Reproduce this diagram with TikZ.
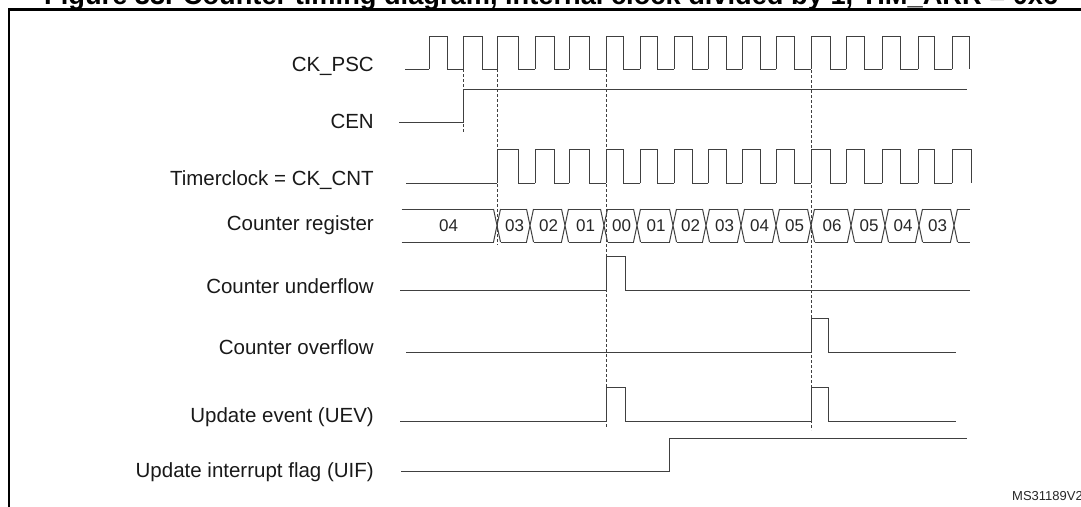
\documentclass[tikz,border=0pt]{standalone}
\usepackage{fontspec}
\setmainfont{Liberation Sans}
\begin{document}
\begin{tikzpicture}[x=1pt,y=-1pt,
  sig/.style={draw=black!75,line width=1pt},
  dsh/.style={draw=black!75,line width=1pt,dash pattern=on 3pt off 2pt},
  lbl/.style={anchor=east,inner sep=0pt,text=black!90,font=\fontsize{20.5}{24}\selectfont},
  bus/.style={inner sep=0pt,text=black!85,font=\fontsize{17}{20}\selectfont}]
\useasboundingbox (0,0) rectangle (1081,506);
% title (clipped)
\begin{scope}
\clip (0,0) rectangle (1081,8);
\node[anchor=base west,inner sep=0pt] (title) at (44,4) {\resizebox{1014pt}{!}{\bfseries Figure 33. Counter timing diagram, internal clock divided by 1, TIM\_ARR = 0x6}};
\end{scope}
% frame
\draw[line width=2.5pt] (1090,9.5) -- (9,9.5) -- (9,515);
% labels
\node[lbl] (l1) at (374,66) {CK\_PSC};
\node[lbl] (l2) at (374,121) {CEN};
\node[lbl] (l3) at (374,180) {Timerclock = CK\_CNT};
\node[lbl] (l4) at (374,225) {Counter register};
\node[lbl] (l5) at (374,286) {Counter underflow};
\node[lbl] (l6) at (374,347) {Counter overflow};
\node[lbl] (l7) at (374,417) {Update event (UEV)};
\node[lbl] (l8) at (374,472) {Update interrupt flag (UIF)};
\node[anchor=base east,inner sep=0pt,font=\fontsize{13}{15}\selectfont,text=black!85] (ms) at (1083,500) {MS31189V2};
% CK_PSC
\draw[sig] (405,69) -- (429,69);
\foreach \r/\f in {429/447,463/482,497/518,535/554,569/589,606/623,640/657,674/692,708/726,742/760,776/794,811/830,846/864,882/900,918/934}{
  \draw[sig] (\r,69) -- (\r,36) -- (\f,36) -- (\f,69);
}
\foreach \f/\r in {447/463,482/497,518/535,554/569,589/606,623/640,657/674,692/708,726/742,760/776,794/811,830/846,864/882,900/918,934/952}{
  \draw[sig] (\f,69) -- (\r,69);
}
\draw[sig] (952,69) -- (952,36) -- (969,36) -- (969,69);
% CEN
\draw[sig] (399,122) -- (463,122) -- (463,89) -- (967,89);
% Timerclock
\draw[sig] (406,183) -- (497,183);
\foreach \r/\f in {497/518,535/554,569/589,606/623,640/657,674/692,708/726,742/760,776/794,811/830,846/864,882/900,918/934,952/971}{
  \draw[sig] (\r,183) -- (\r,149) -- (\f,149) -- (\f,183);
}
\foreach \f/\r in {518/535,554/569,589/606,623/640,657/674,692/708,726/742,760/776,794/811,830/846,864/882,900/918,934/952}{
  \draw[sig] (\f,183) -- (\r,183);
}
% Counter register bus
\def\d{3.5}
\foreach \c in {497,530,565,604,637,673,706,741,776,811,851,885,919,954}{
  \draw[sig] (\c-\d,209) -- (\c+\d,242) (\c-\d,242) -- (\c+\d,209);
}
\foreach \a/\b/\v in {398/497/04,497/530/03,530/565/02,565/604/01,604/637/00,637/673/01,673/706/02,706/741/03,741/776/04,776/811/05,811/851/06,851/885/05,885/919/04,919/954/03}{
  \draw[sig] (\a+\d,209) -- (\b-\d,209) (\a+\d,242) -- (\b-\d,242);
  \node[bus] at ({(\a+\b)/2+1},226) {\v};
}
\draw[sig] (954+\d,209) -- (970,209) (954+\d,242) -- (970,242);
% underflow
\draw[sig] (400,290) -- (606,290) -- (606,256) -- (625,256) -- (625,290) -- (970,290);
% overflow
\draw[sig] (406,352) -- (811,352) -- (811,318) -- (828,318) -- (828,352) -- (956,352);
% UEV
\draw[sig] (400,421) -- (606,421) -- (606,387) -- (625,387) -- (625,421) -- (811,421) -- (811,387) -- (828,387) -- (828,421) -- (956,421);
% UIF
\draw[sig] (401,471) -- (669,471) -- (669,438) -- (967,438);
% dashed markers
\draw[dsh] (463,69) -- (463,133);
\draw[dsh] (497,69) -- (497,245);
\draw[dsh] (606,69) -- (606,428);
\draw[dsh] (811,50) -- (811,430);
\end{tikzpicture}
\end{document}
